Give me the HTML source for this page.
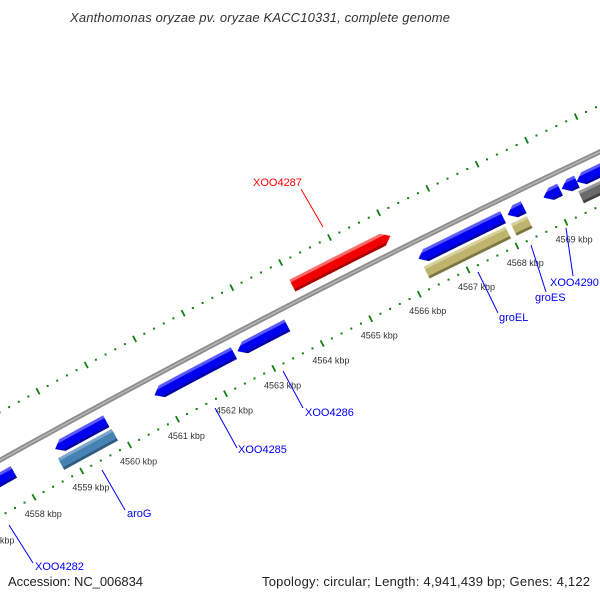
<!DOCTYPE html>
<html><head><meta charset="utf-8"><style>
html,body{margin:0;padding:0;background:#fff;}
svg{display:block;}
text{font-family:"Liberation Sans","DejaVu Sans",sans-serif;}
</style></head><body>
<svg id="map" width="600" height="600" viewBox="0 0 600 600" xmlns="http://www.w3.org/2000/svg">
<rect width="600" height="600" fill="#fff"/>
<text x="260" y="22" text-anchor="middle" font-size="13" font-style="italic" fill="#333" textLength="380">Xanthomonas oryzae pv. oryzae KACC10331, complete genome</text>
<g id="ticks"></g>
<g id="backbone"></g>
<g id="genes"></g>
<g id="labels"></g>
<text x="8" y="586" font-size="13" fill="#222" textLength="135">Accession: NC_006834</text>
<text x="590" y="586" font-size="13" fill="#222" text-anchor="end" textLength="328">Topology: circular; Length: 4,941,439 bp; Genes: 4,122</text>
</svg>
<script>
// ---- data (kbp positions) ----
const geneNames   = ["XOO4282","g-b1","XOO4285","XOO4286","XOO4287","g-b2","g-b3","XOO4290","g-b4","g-b5","aroG","groEL","groES","g-gray"];
const geneStarts  = [4556.5, 4558.77, 4560.84, 4562.56, 4564.0, 4566.28, 4568.1, 4568.83, 4569.2, 4569.5, 4558.73, 4566.3, 4568.08, 4569.45];
const geneEnds    = [4557.9, 4559.83, 4562.48, 4563.58, 4566.0, 4568.0, 4568.42, 4569.16, 4569.5, 4570.6, 4559.85, 4567.96, 4568.4, 4570.6];
const geneStrand  = [-1,-1,-1,-1,1,-1,-1,-1,-1,-1,0,0,0,0];
const geneTrack   = [1,1,1,1,0,1,1,1,1,1,2,2,2,2];
const geneColor   = ["blue","blue","blue","blue","red","blue","blue","blue","blue","blue","steel","khaki","khaki","gray"];
const tickKbp     = [4556,4557,4558,4559,4560,4561,4562,4563,4564,4565,4566,4567,4568,4569,4570,4571,4572];
const tickLabels  = ["4556 kbp","4557 kbp","4558 kbp","4559 kbp","4560 kbp","4561 kbp","4562 kbp","4563 kbp","4564 kbp","4565 kbp","4566 kbp","4567 kbp","4568 kbp","4569 kbp","4570 kbp","4571 kbp","4572 kbp"];

// ---- geometry ----
const CX=4960, CY=9373, R=10200, A0=240.97, DEG=0.3073, K0=4558;
const trackR=[R+16, R-17, R-33];
const H=13, HEAD=0.15;
const palette={blue:["#5a5aff","#0000f0","#0000a8"],red:["#ff6a6a","#f00000","#a80000"],steel:["#7aa6cc","#4682b4","#2e5a80"],khaki:["#d6d09a","#bdb46e","#7d7640"],gray:["#9a9a9a","#6a6a6a","#404040"]};
function ang(k){return (A0+(k-K0)*DEG)*Math.PI/180;}
function pt(k,r){const a=ang(k);return [CX+r*Math.cos(a),CY+r*Math.sin(a)];}
const NS="http://www.w3.org/2000/svg";
function mk(tag,attrs,parent){const e=document.createElementNS(NS,tag);for(const k in attrs)e.setAttribute(k,attrs[k]);parent.appendChild(e);return e;}
function fmt(p){return p[0].toFixed(2)+","+p[1].toFixed(2);}

// ticks
const tg=document.getElementById("ticks");
const rOut=R+42, rIn=R-49;
for(let i=0;i<tickKbp.length;i++){
  for(const rr of [rOut,rIn]){
    const a=pt(tickKbp[i],rr-3.5), b=pt(tickKbp[i],rr+3.5);
    const l=mk("line",{x1:a[0],y1:a[1],x2:b[0],y2:b[1],stroke:"#118011","stroke-width":1.8},tg);
    
    
    if(i<tickKbp.length-1){
      for(let j=1;j<5;j++){
        const c=pt(tickKbp[i]+j*(tickKbp[i+1]-tickKbp[i])/5,rr);
        const d=mk("rect",{x:c[0]-1,y:c[1]-1,width:2,height:2,fill:"#118011"},tg);
        
        
      }
    }
  }
  const lp=pt(tickKbp[i],rIn-19);
  const t=mk("text",{x:lp[0],y:lp[1]+3,"font-size":9,"text-anchor":"middle",fill:"#333"},tg);
  t.textContent=tickLabels[i];
  
  
}

// backbone
const bg=document.getElementById("backbone");
let pts=[];for(let k=4555;k<=4573;k+=0.25)pts.push(fmt(pt(k,R)));
const bb=mk("polyline",{points:pts.join(" "),fill:"none",stroke:"#8c8c8c","stroke-width":5},bg);


const bb2=mk("polyline",{points:pts.join(" "),fill:"none",stroke:"#b4b4b4","stroke-width":1.6},bg);



// genes
function bandPoly(k1,k2,ra,rb,rc,strand){
  // ra > rb radii; arrow ends
  function endK(r,side){
    const f=Math.min(1,Math.abs(r-rc)/(H/2));
    if(strand===1&&side===1)return k2-HEAD*f;
    if(strand===-1&&side===0)return k1+HEAD*f;
    return side?k2:k1;
  }
  const P=[];const N=8;
  const s0=endK(ra,0),e0=endK(ra,1);
  for(let i=0;i<=N;i++)P.push(pt(s0+(e0-s0)*i/N,ra));
  if(strand===1&&ra>rc&&rb<rc)P.push(pt(k2,rc));
  const s1=endK(rb,0),e1=endK(rb,1);
  for(let i=N;i>=0;i--)P.push(pt(s1+(e1-s1)*i/N,rb));
  if(strand===-1&&ra>rc&&rb<rc)P.push(pt(k1,rc));
  return P.map(fmt).join(" ");
}
const gg=document.getElementById("genes");
for(let i=0;i<geneNames.length;i++){
  const rc=trackR[geneTrack[i]], top=rc+H/2, bot=rc-H/2, col=palette[geneColor[i]];
  const g=mk("g",{},gg);
  
  
  const bands=[[top,top-3,col[0]],[top-3,bot+2.5,col[1]],[bot+2.5,bot,col[2]]];
  for(const b of bands){
    const p=mk("polygon",{points:bandPoly(geneStarts[i],geneEnds[i],b[0],b[1],rc,geneStrand[i]),fill:b[2],stroke:b[2],"stroke-width":0.3},g);
    
    
  }
}

// labels (layout positions)
const labelText=["XOO4282","aroG","XOO4285","XOO4286","XOO4287","groEL","groES","XOO4290"];
const labelColor=["#0000ff","#0000ff","#0000ff","#0000ff","#ff0000","#0000ff","#0000ff","#0000ff"];
const labelPos=[[35,570,9,525,33,563],[127,517,102,470,125,510],[238,453,215,408,237,448],[305,416,283,371,303,408],[253,186,301,189,323,227],[499,321,478,272,498,313],[535,301,531,245,546,292],[550,286,566,228,573,276]];
const lg=document.getElementById("labels");
for(let i=0;i<labelText.length;i++){
  const p=labelPos[i];
  const l=mk("line",{x1:p[2],y1:p[3],x2:p[4],y2:p[5],stroke:labelColor[i],"stroke-width":1},lg);
  
  
  const t=mk("text",{x:p[0],y:p[1],"font-size":11,fill:labelColor[i]},lg);
  t.textContent=labelText[i];
  
  
}
</script>
</body></html>
